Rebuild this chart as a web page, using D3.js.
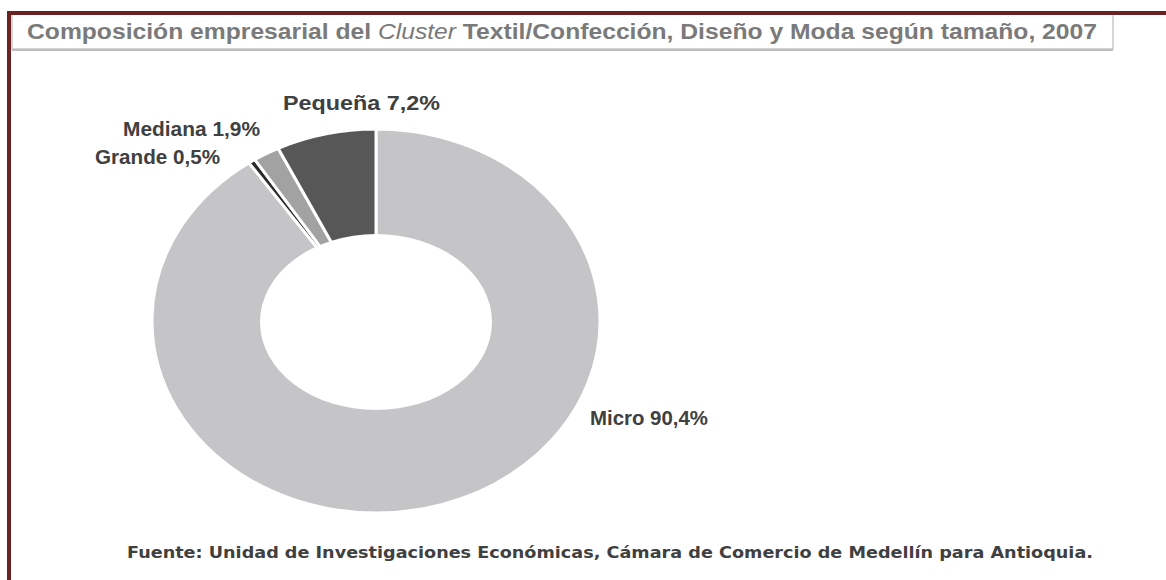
<!DOCTYPE html>
<html><head><meta charset="utf-8">
<script src="https://cdn.jsdelivr.net/npm/d3@7/dist/d3.min.js"></script>
<style>body{margin:0;background:#fff}</style>
</head><body>
<svg id="c" width="1166" height="580"></svg>
<script>
const categories = ["Micro", "Grande", "Mediana", "Pequeña"];
const values = [90.4, 0.5, 1.9, 7.2];
const labelText = ["Micro 90,4%", "Grande 0,5%", "Mediana 1,9%", "Pequeña 7,2%"];
const title = "Composición empresarial del Cluster Textil/Confección, Diseño y Moda según tamaño, 2007";
const source = "Fuente: Unidad de Investigaciones Económicas, Cámara de Comercio de Medellín para Antioquia.";

const colors = {Micro:"#c5c5c7", Grande:"#2b2b2b", Mediana:"#a2a2a2", "Pequeña":"#575757"};
const labelPos = {Micro:[590,425,118], Grande:[95,164,125], Mediana:[123,136,137], "Pequeña":[283,110,157]};

const svg = d3.select("#c");
const narrow = "'Liberation Sans Narrow','Arial Narrow','Liberation Sans',sans-serif";

// frame
svg.append("rect").attr("x",12).attr("y",14).attr("width",1101).attr("height",35)
  .attr("fill","#fff").attr("stroke","#c8c8c8").attr("stroke-width",1.5);
svg.append("line").attr("x1",12).attr("x2",1113).attr("y1",50).attr("y2",50).attr("stroke","#bdbdbd").attr("stroke-width",2);
svg.append("line").attr("x1",9).attr("x2",9).attr("y1",11).attr("y2",580).attr("stroke","#6a2222").attr("stroke-width",4);
svg.append("line").attr("x1",7).attr("x2",1166).attr("y1",13).attr("y2",13).attr("stroke","#6a2222").attr("stroke-width",4);

// title
const t = svg.append("text").attr("x",27).attr("y",39)
  .attr("font-family",narrow).attr("font-weight","bold").attr("font-size",22)
  .attr("fill","#7a7a7a").attr("textLength",1070).attr("lengthAdjust","spacingAndGlyphs");
t.append("tspan").text("Composición empresarial del ");
t.append("tspan").attr("font-style","italic").attr("font-weight","normal").text("Cluster");
t.append("tspan").text(" Textil/Confección, Diseño y Moda según tamaño, 2007");

// donut
const cx = 376, cy = 321, rx = 224, ry = 192;
const holeRx = 116, holeRy = 88;
const pie = d3.pie().sort(null).value(d => d.v);
const data = pie(categories.map((c,i)=>({c, v:values[i], label:labelText[i]})));
const arc = d3.arc().innerRadius(0).outerRadius(ry);
const g = svg.append("g").attr("transform",`translate(${cx},${cy}) scale(${rx/ry},1)`);
g.selectAll("path").data(data).join("path")
  .attr("d",arc).attr("fill",d=>colors[d.data.c])
  .attr("stroke","#fff").attr("stroke-width",3).attr("stroke-linejoin","miter")
  .attr("vector-effect","non-scaling-stroke");
svg.append("ellipse").attr("cx",cx).attr("cy",cy+1).attr("rx",holeRx).attr("ry",holeRy).attr("fill","#fff");

svg.selectAll("text.lbl").data(data).join("text").attr("class","lbl")
  .attr("x",d=>labelPos[d.data.c][0]).attr("y",d=>labelPos[d.data.c][1])
  .attr("textLength",d=>labelPos[d.data.c][2]).attr("lengthAdjust","spacingAndGlyphs")
  .attr("font-family",narrow).attr("font-weight","bold").attr("font-size",21)
  .attr("fill","#404040").text(d=>d.data.label);

svg.append("text").attr("x",127).attr("y",558)
  .attr("font-family","'DejaVu Sans','Verdana',sans-serif").attr("font-weight","bold").attr("font-size",15)
  .attr("fill","#404040").attr("textLength",966).attr("lengthAdjust","spacingAndGlyphs").text(source);
</script>
</body></html>
